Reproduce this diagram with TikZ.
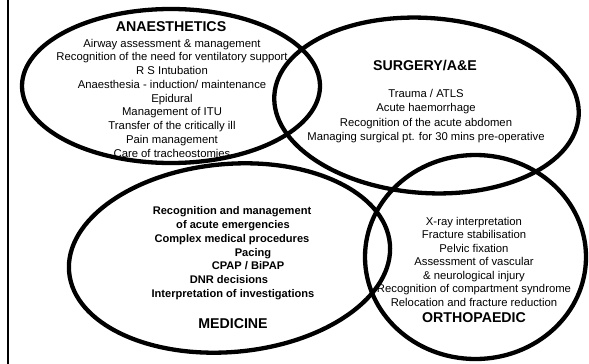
\documentclass[tikz,border=0pt]{standalone}
\usepackage{fontspec}
\setmainfont{Liberation Sans}
\usetikzlibrary{shapes.geometric}
\begin{document}
\begin{tikzpicture}[x=1pt,y=-1pt,
  body/.style={font=\fontsize{11.3}{13}\selectfont, anchor=base, inner sep=0pt},
  bodybold/.style={font=\fontsize{11.1}{13}\selectfont\bfseries, anchor=base, inner sep=0pt},
  heading/.style={font=\fontsize{14.2}{17}\selectfont\bfseries, anchor=base, inner sep=0pt},
  ring/.style={draw, ellipse, line width=4.3pt, inner sep=0pt},
  rule/.style={line width=1.6pt}]
\useasboundingbox (0,0) rectangle (589,364);

% left border rule
\coordinate (ruletop) at (8,0);
\coordinate (rulebot) at (8,364);
\draw[rule] (ruletop) -- (rulebot);

% ---- Anaesthetics ----
\node[heading] (anhead) at (171,31) {ANAESTHETICS};
\foreach \t [count=\i] in {Airway assessment \& management,
  Recognition of the need for ventilatory support,
  R S Intubation,
  Anaesthesia - induction/ maintenance,
  Epidural,
  Management of ITU,
  Transfer of the critically ill,
  Pain management,
  Care of tracheostomies}
  \node[body] (an\i) at (172,{47+13.75*(\i-1)}) {\t};

% ---- Surgery / A&E ----
\node[heading] (sghead) at (425,70) {SURGERY/A\&E};
\foreach \t [count=\i] in {Trauma / ATLS,
  Acute haemorrhage,
  Recognition of the acute abdomen,
  Managing surgical pt. for 30 mins pre-operative}
  \node[body] (sg\i) at (426,{97+14.6*(\i-1)}) {\t};

% ---- Medicine ----
\node[bodybold] (md1) at (232,214) {Recognition and management};
\node[bodybold] (md2) at (233,228) {of acute emergencies};
\node[bodybold] (md3) at (232,242) {Complex medical procedures};
\node[bodybold] (md4) at (253,256) {Pacing};
\node[bodybold] (md5) at (248,269) {CPAP / BiPAP};
\node[bodybold] (md6) at (229,283) {DNR decisions};
\node[bodybold] (md7) at (233,297) {Interpretation of investigations};
\node[heading] (mdhead) at (233,328) {MEDICINE};

% ---- Orthopaedic ----
\foreach \t [count=\i] in {X-ray interpretation,
  Fracture stabilisation,
  Pelvic fixation,
  Assessment of vascular,
  \& neurological injury,
  Recognition of compartment syndrome,
  Relocation and fracture reduction}
  \node[body] (or\i) at (474,{225+13.5*(\i-1)}) {\t};
\node[heading] (orhead) at (474,322) {ORTHOPAEDIC};

% ---- the four overlapping fields ----
\node[ring, minimum width=298pt, minimum height=154pt] (anaes) at (171,86) {};
\node[ring, minimum width=305pt, minimum height=175pt, rotate=-4] (surg) at (426.5,105.5) {};
\node[ring, minimum width=322pt, minimum height=188pt, rotate=5] (med) at (229.5,258) {};
\node[ring, minimum width=221pt, minimum height=204pt] (ortho) at (475.5,257) {};
\end{tikzpicture}
\end{document}
